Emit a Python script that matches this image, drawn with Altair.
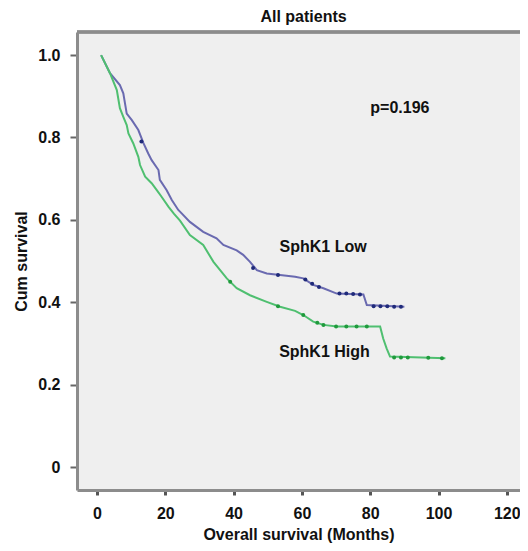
import altair as alt
import pandas as pd

# ---- data ----
low_month = [1.2, 3.8, 6.7, 7.7, 8.7, 10.2, 12.1, 13.6, 15.0, 16.0, 18.0, 18.4, 20.4, 21.9, 23.8,
             24.3, 27.2, 31.1, 35.0, 37.0, 40.9, 42.8, 44.8, 46.8, 49.7, 53.6, 58.0, 60.4, 63.3,
             66.3, 70.2, 78.0, 79.0, 90.0]
low_surv = [1.0, 0.956, 0.927, 0.907, 0.858, 0.842, 0.818, 0.786, 0.761, 0.745, 0.721, 0.697, 0.672,
            0.648, 0.624, 0.62, 0.595, 0.571, 0.555, 0.539, 0.526, 0.515, 0.498, 0.478, 0.47, 0.466,
            0.462, 0.458, 0.442, 0.434, 0.421, 0.419, 0.393, 0.389]

high_month = [1.2, 3.8, 5.8, 6.7, 7.7, 8.7, 9.2, 10.6, 12.1, 12.6, 14.1, 16.0, 17.5, 18.9, 20.9,
              22.5, 24.3, 27.2, 31.1, 34.1, 38.0, 40.9, 44.8, 49.7, 53.6, 58.0, 60.4, 63.3, 66.3,
              70.2, 82.9, 83.8, 84.8, 85.8, 102.0]
high_surv = [1.0, 0.956, 0.915, 0.871, 0.85, 0.83, 0.81, 0.786, 0.753, 0.733, 0.705, 0.689, 0.672,
             0.656, 0.632, 0.615, 0.598, 0.563, 0.539, 0.498, 0.458, 0.434, 0.417, 0.401, 0.389,
             0.379, 0.369, 0.353, 0.345, 0.341, 0.341, 0.312, 0.288, 0.268, 0.264]

low_cens_month = [13.0, 45.7, 53.0, 61.0, 63.0, 65.0, 71.0, 73.0, 75.0, 77.0, 81.0, 83.0, 85.0, 87.0, 89.0]
low_cens_surv = [0.79, 0.483, 0.466, 0.455, 0.445, 0.437, 0.421, 0.421, 0.42, 0.419, 0.39, 0.39, 0.39, 0.389, 0.389]

high_cens_month = [39.0, 53.0, 60.4, 64.5, 66.3, 70.0, 73.0, 76.0, 79.0, 87.0, 89.0, 91.0, 97.0, 101.0]
high_cens_surv = [0.45, 0.39, 0.369, 0.35, 0.345, 0.341, 0.341, 0.341, 0.341, 0.266, 0.266, 0.266, 0.265, 0.264]

groups = ["SphK1 Low", "SphK1 High"]
line_colors = ["#6a6ab0", "#4fbf70"]
cens_colors = ["#1f2a7a", "#1f9a3c"]

x_ticks = [0, 20, 40, 60, 80, 100, 120]
y_ticks = [0, 0.2, 0.4, 0.6, 0.8, 1.0]

label_text = ["p=0.196", "SphK1 Low", "SphK1 High"]
label_month = [88.7, 66.2, 66.6]
label_surv = [0.871, 0.534, 0.279]

# ---- tables ----
curves = pd.concat([
    pd.DataFrame({"month": low_month, "surv": low_surv, "group": groups[0],
                  "idx": range(len(low_month))}),
    pd.DataFrame({"month": high_month, "surv": high_surv, "group": groups[1],
                  "idx": range(len(high_month))}),
])
cens = pd.concat([
    pd.DataFrame({"month": low_cens_month, "surv": low_cens_surv, "group": groups[0]}),
    pd.DataFrame({"month": high_cens_month, "surv": high_cens_surv, "group": groups[1]}),
])
labels = pd.DataFrame({"text": label_text, "month": label_month, "surv": label_surv})

FONT = "Liberation Sans"
W, H = 443, 458
FRAME = "#8c8c8c"

xscale = alt.Scale(domain=[-5.86, 123.86], nice=False, zero=False)
yscale = alt.Scale(domain=[-0.0558, 1.056], nice=False, zero=False)

x_axis = alt.Axis(values=x_ticks, grid=False, title="Overall survival (Months)",
                  domain=True, domainColor=FRAME, domainWidth=3, domainOpacity=1,
                  tickColor="#555555", tickSize=5, tickWidth=3,
                  labelFont=FONT, labelFontSize=16, labelFontWeight="bold", labelColor="#111111",
                  labelPadding=10,
                  titleFont=FONT, titleFontSize=16, titleFontWeight="bold", titleColor="#111111",
                  titleY=44, titleBaseline="middle")
y_axis = alt.Axis(values=y_ticks, grid=False, title="Cum survival",
                  labelExpr="datum.value == 0 ? '0' : format(datum.value, '.1f')",
                  domain=True, domainColor=FRAME, domainWidth=3, domainOpacity=1,
                  tickColor="#666666", tickSize=7, tickWidth=2,
                  labelFont=FONT, labelFontSize=16, labelFontWeight="bold", labelColor="#111111",
                  labelPadding=10, labelBaseline="middle",
                  titleFont=FONT, titleFontSize=16, titleFontWeight="bold", titleColor="#111111",
                  titleX=-55.5, titleY=H / 2, titleAngle=-90, titleAlign="center",
                  titleBaseline="middle")

base = alt.Chart(curves)

lines = base.mark_line(strokeWidth=2).encode(
    x=alt.X("month:Q", scale=xscale, axis=x_axis),
    y=alt.Y("surv:Q", scale=yscale, axis=y_axis),
    color=alt.Color("group:N", scale=alt.Scale(domain=groups, range=line_colors), legend=None),
    order=alt.Order("idx:Q"),
)

points = alt.Chart(cens).mark_circle(size=16, opacity=1).encode(
    x=alt.X("month:Q", scale=xscale),
    y=alt.Y("surv:Q", scale=yscale),
    color=alt.Color("group:N", scale=alt.Scale(domain=groups, range=cens_colors), legend=None),
)

texts = alt.Chart(labels).mark_text(font=FONT, fontSize=16, fontWeight="bold", color="#111111",
                                    align="center", baseline="middle").encode(
    x=alt.X("month:Q", scale=xscale),
    y=alt.Y("surv:Q", scale=yscale),
    text="text:N",
)

top_frame = alt.Chart(labels).mark_rule(color=FRAME, strokeWidth=3, opacity=1).encode(
    x=alt.value(0), x2=alt.value(W), y=alt.value(0), y2=alt.value(0)
)

chart = alt.layer(lines, points, texts, top_frame).resolve_scale(color="independent").properties(
    width=W, height=H,
    title=alt.TitleParams("All patients", font=FONT, fontSize=16, fontWeight="bold",
                          color="#111111", anchor="middle", baseline="bottom",
                          offset=-10, dx=5),
    autosize=alt.AutoSizeParams(type="none"),
    padding={"left": 69, "top": 24, "right": 0, "bottom": 53},
).configure(background="white").configure_view(stroke=None, fill="#efefef")

chart.save("out.html", embed_options={"renderer": "svg", "actions": False})
